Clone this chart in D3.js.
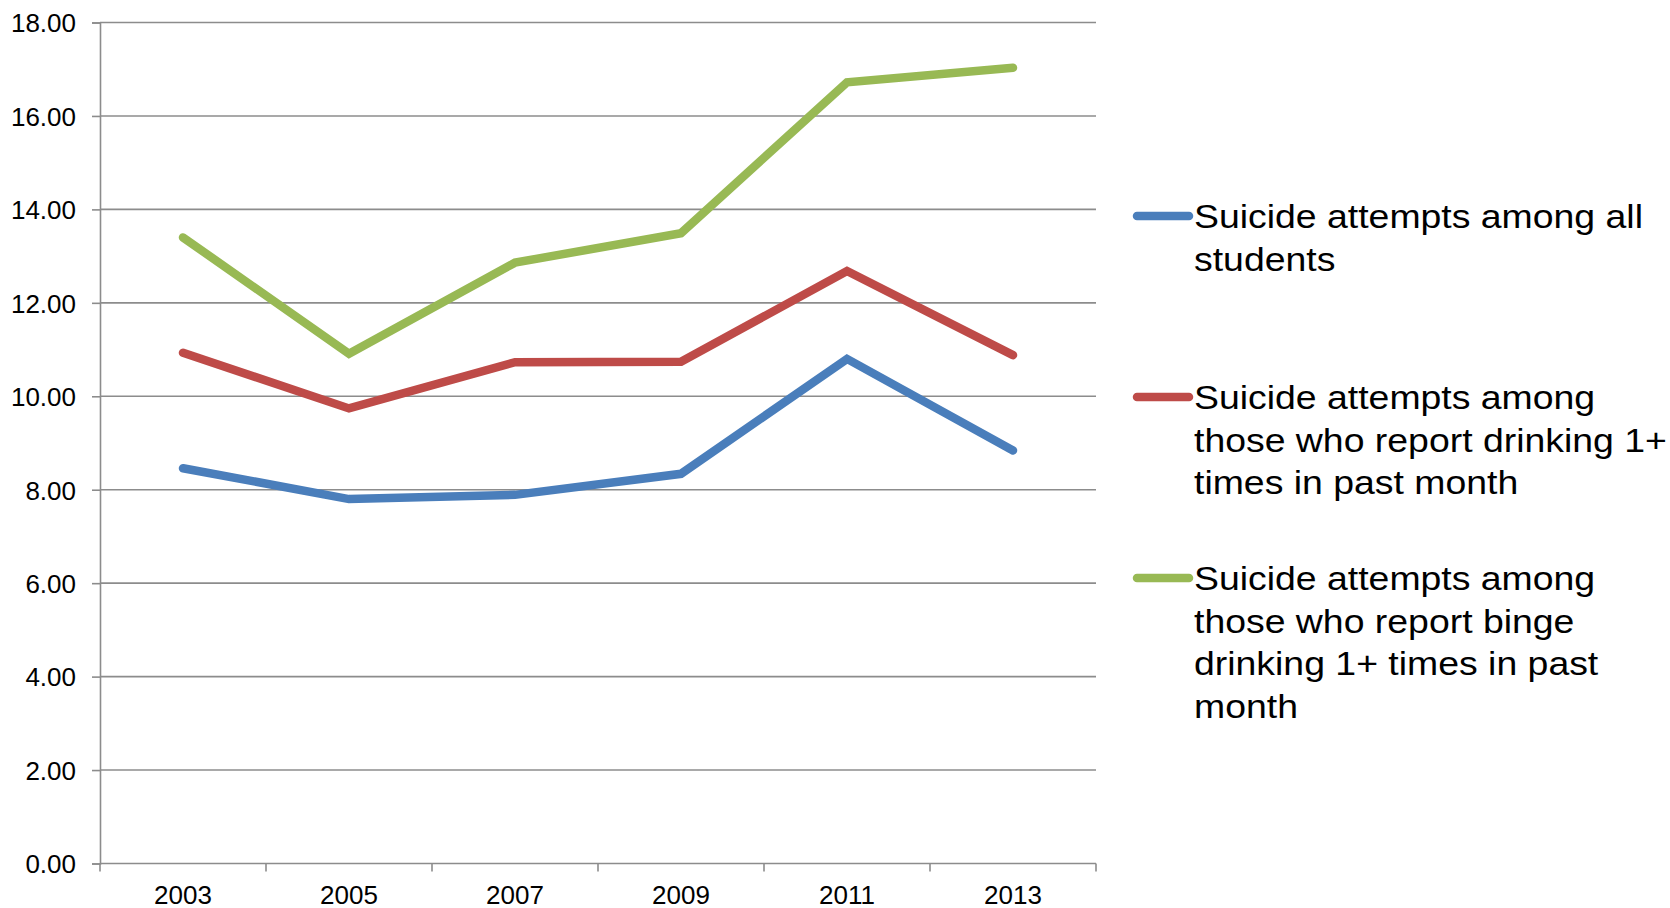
<!DOCTYPE html>
<html>
<head>
<meta charset="utf-8">
<script src="https://cdn.jsdelivr.net/npm/d3@7"></script>
<style>
  body { margin: 0; background: #fff; }
  svg text { font-family: "Liberation Sans", Arial, sans-serif; fill: #000; }
</style>
</head>
<body>
<svg id="chart" width="1670" height="908"></svg>
<script>
// values
const years = ["2003", "2005", "2007", "2009", "2011", "2013"];
const allStudents = [8.46, 7.80, 7.89, 8.34, 10.80, 8.84];
const drinking = [10.93, 9.74, 10.73, 10.74, 12.68, 10.88];
const binge = [13.40, 10.91, 12.86, 13.49, 16.72, 17.03];
const yTicks = [0, 2, 4, 6, 8, 10, 12, 14, 16, 18];

const seriesNames = [
  ["Suicide attempts among all", "students"],
  ["Suicide attempts among", "those who report drinking 1+", "times in past month"],
  ["Suicide attempts among", "those who report binge", "drinking 1+ times in past", "month"],
];
const seriesColors = ["#4a7ebb", "#be4b48", "#98b954"];
const series = [allStudents, drinking, binge];

const svg = d3.select("#chart");
const m = { left: 100, right: 1096, top: 22.5, bottom: 863.5 };

const x = d3.scaleBand().domain(years).range([m.left, m.right]);
const y = d3.scaleLinear().domain([0, 18]).range([m.bottom, m.top]);

// gridlines
svg.append("g")
  .selectAll("line")
  .data(yTicks.filter(d => d > 0))
  .join("line")
  .attr("x1", m.left).attr("x2", m.right)
  .attr("y1", d => y(d)).attr("y2", d => y(d))
  .attr("stroke", "#8c8c8c").attr("stroke-width", 1.6);

// y axis
const yAxis = svg.append("g")
  .attr("transform", `translate(${m.left},0)`)
  .call(d3.axisLeft(y).tickValues(yTicks).tickFormat(d3.format(".2f")).tickSize(8).tickPadding(16));
yAxis.select(".domain").attr("stroke", "#8c8c8c").attr("stroke-width", 1.6);
yAxis.selectAll(".tick line").attr("stroke", "#8c8c8c").attr("stroke-width", 1.6);
yAxis.selectAll(".tick text").style("font-size", "26px").attr("dy", "0.36em");

// x axis (ticks at band boundaries)
const xg = svg.append("g").attr("transform", `translate(0,${m.bottom})`);
xg.append("line").attr("x1", m.left).attr("x2", m.right)
  .attr("stroke", "#8c8c8c").attr("stroke-width", 1.6);
xg.selectAll("line.tk")
  .data(years.map(d => x(d)).concat([m.right]))
  .join("line").attr("class", "tk")
  .attr("x1", d => d).attr("x2", d => d)
  .attr("y1", 0).attr("y2", 8)
  .attr("stroke", "#8c8c8c").attr("stroke-width", 1.6);
xg.selectAll("text")
  .data(years)
  .join("text")
  .attr("x", d => x(d) + x.bandwidth() / 2)
  .attr("y", 40)
  .attr("text-anchor", "middle")
  .style("font-size", "26px")
  .text(d => d);

// lines
const line = d3.line()
  .x((d, i) => x(years[i]) + x.bandwidth() / 2)
  .y(d => y(d));

svg.append("g")
  .selectAll("path")
  .data(series)
  .join("path")
  .attr("d", line)
  .attr("fill", "none")
  .attr("stroke", (d, i) => seriesColors[i])
  .attr("stroke-width", 8.5)
  .attr("stroke-linecap", "round")
  .attr("stroke-linejoin", "miter");

// legend (text in the source is slightly stretched sideways)
const legendY = [216, 397, 578];
const lg = svg.append("g");
seriesNames.forEach((lines, i) => {
  const g = lg.append("g").attr("transform", `translate(0,${legendY[i]})`);
  g.append("line")
    .attr("x1", 1137).attr("x2", 1189)
    .attr("stroke", seriesColors[i]).attr("stroke-width", 8.5)
    .attr("stroke-linecap", "round");
  const t = g.append("text")
    .attr("transform", "translate(1194,12) scale(1.1,1)")
    .style("font-size", "34px");
  lines.forEach((s, j) => {
    t.append("tspan").attr("x", 0).attr("dy", j === 0 ? 0 : 42.6).text(s);
  });
});
</script>
</body>
</html>
